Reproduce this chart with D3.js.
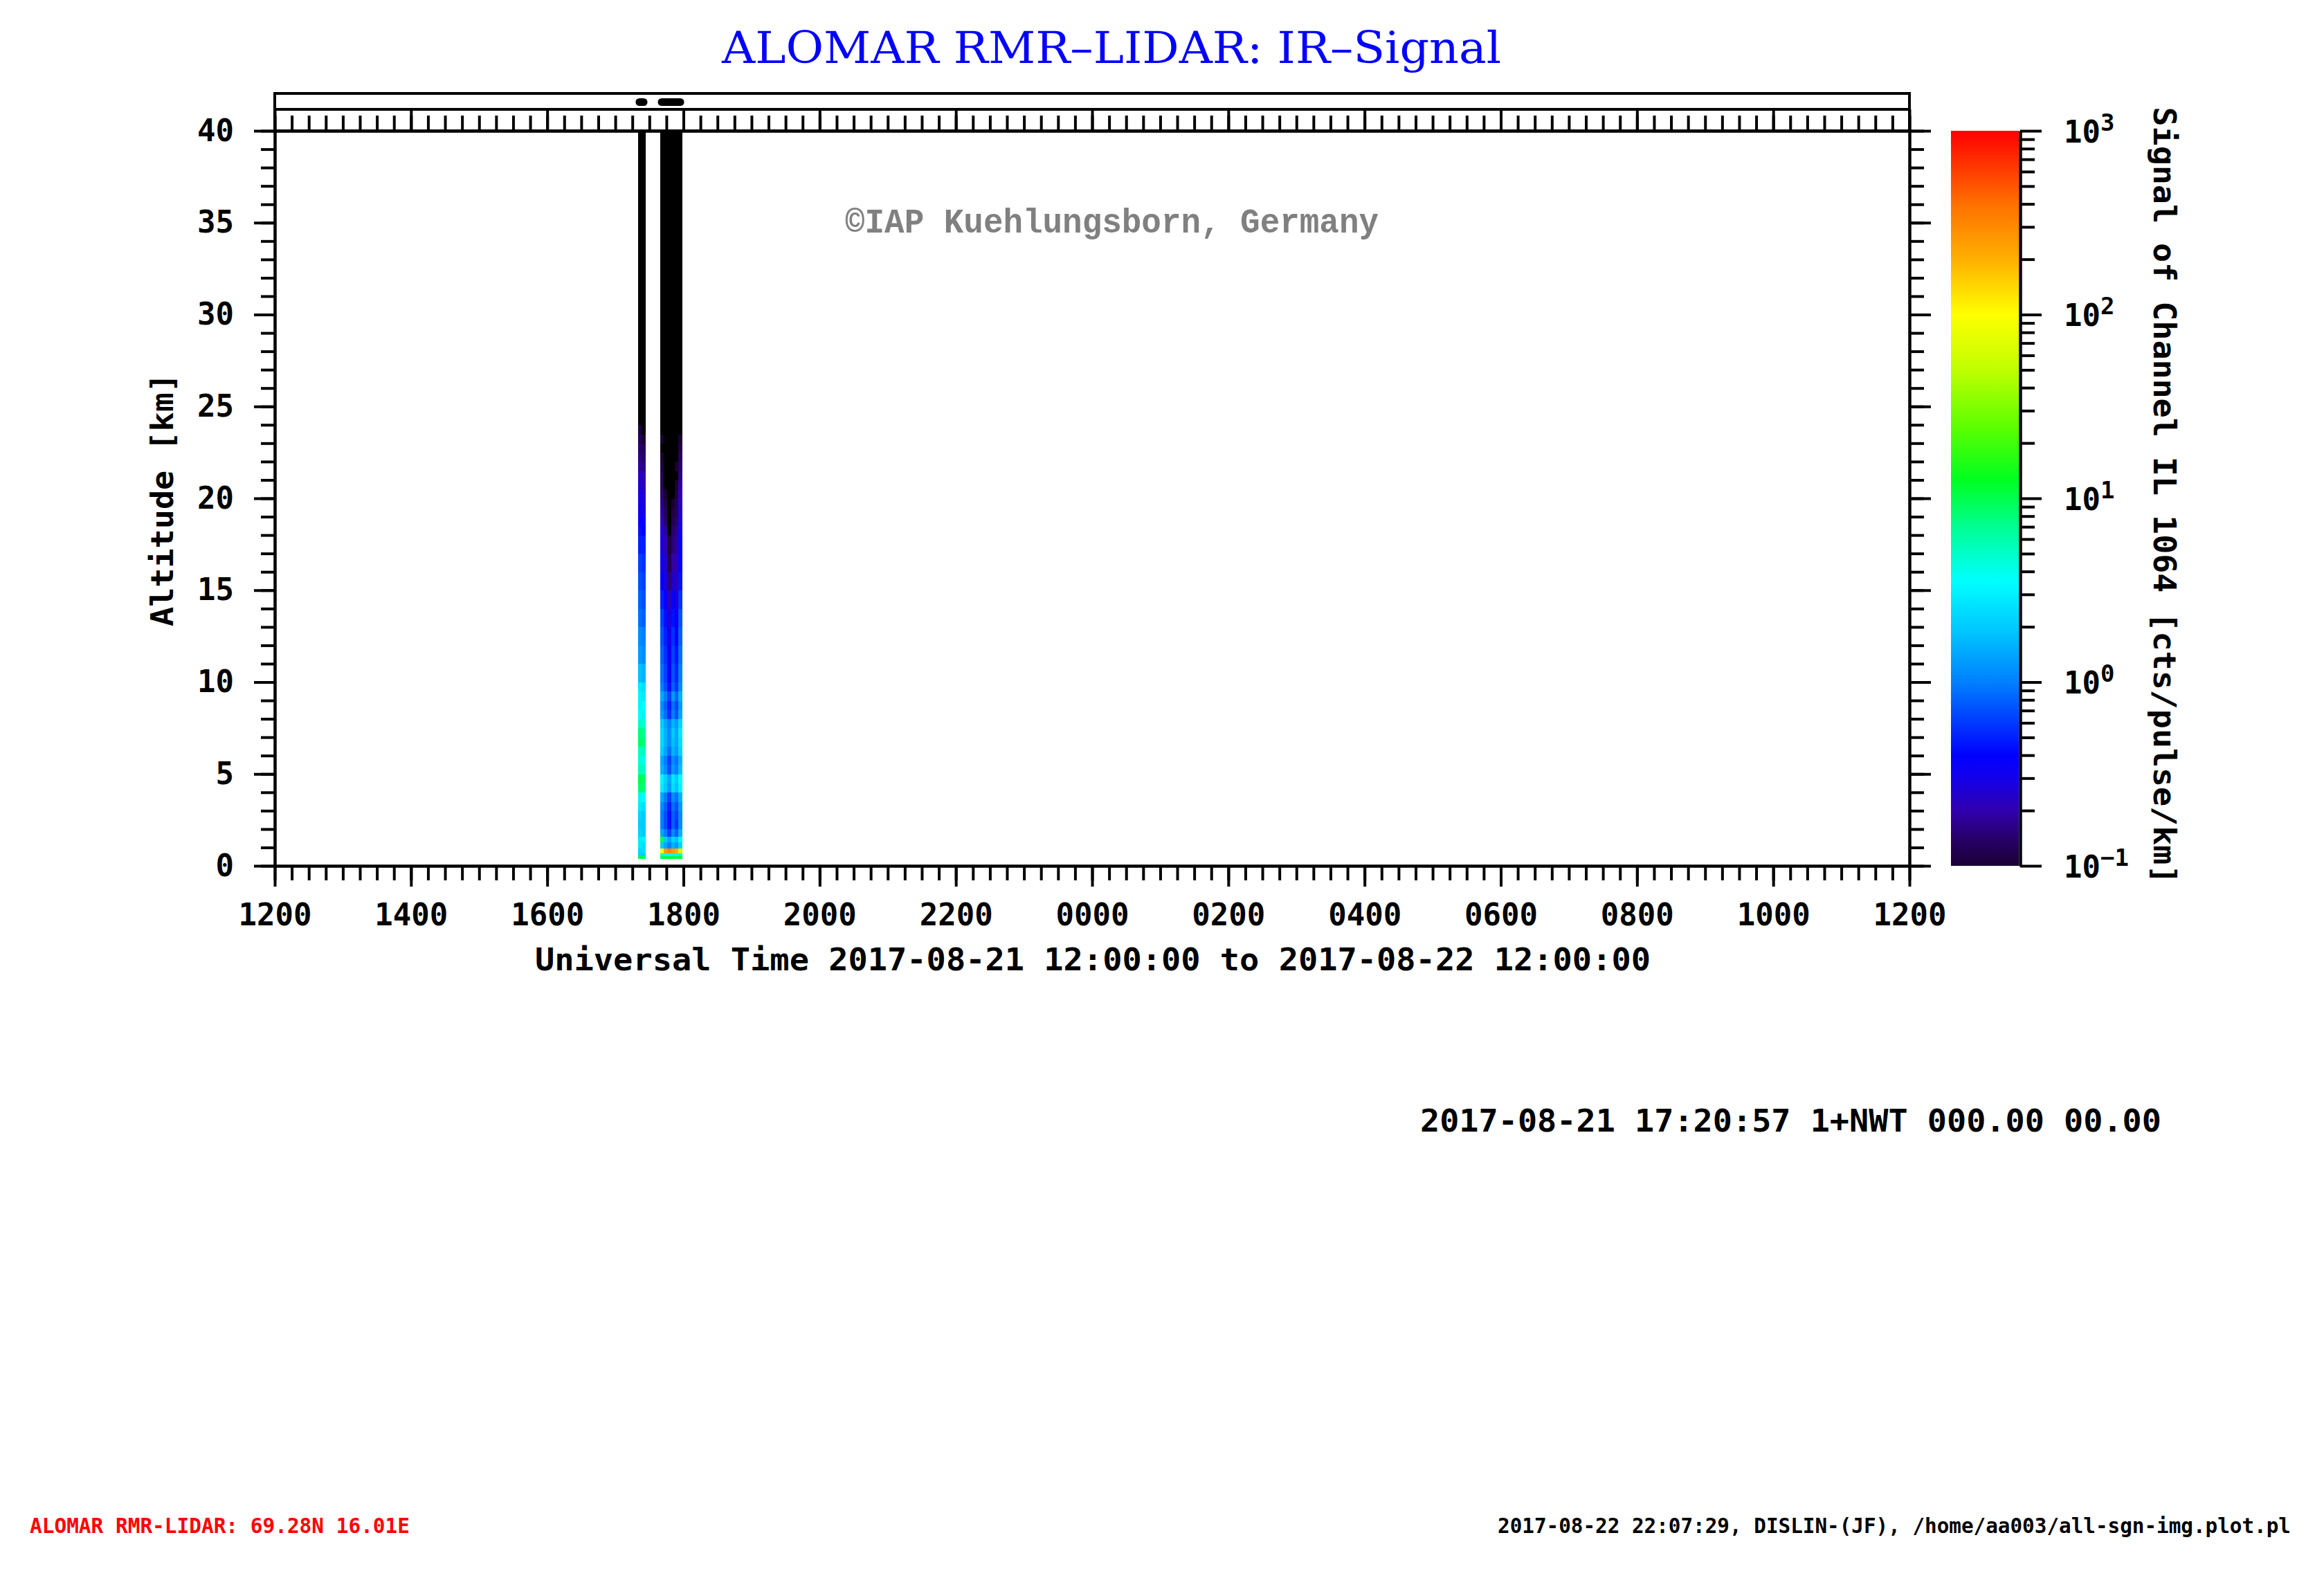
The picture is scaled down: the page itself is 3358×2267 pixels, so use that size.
<!DOCTYPE html>
<html>
<head>
<meta charset="utf-8">
<script src="https://cdn.jsdelivr.net/npm/d3@7"></script>
<style>
  body { margin: 0; background: #fff; }
</style>
</head>
<body>
<div id="chart"></div>
<script>
let width = 3358;
let height = 2267;
let mono = "DejaVu Sans Mono";

// plot frame in pixels
let plot = {left: 397, right: 2759, top: 189, bottom: 1251};

// altitude bin edges [km]
const altEdges = [0.4, 0.55, 0.7, 0.95, 1.3, 1.6, 2.0, 2.5, 3.0, 3.5, 4.0, 4.5, 5.0, 5.5, 6.0, 6.5,
  7.0, 7.5, 8.0, 8.5, 9.0, 9.5, 10, 11, 12, 13, 14, 15, 16, 17, 18, 18.5, 19, 19.5, 20,
  20.5, 21, 21.5, 22, 22.5, 23, 23.5, 24, 24.5, 25, 26, 40];

// integration intervals of each profile (UT, 2017-08-21)
const profStart = ["17:20:00", "17:23:06", "17:39:36", "17:42:45", "17:45:54", "17:49:03", "17:52:12", "17:55:21"];
const profEnd   = ["17:23:06", "17:26:12", "17:42:45", "17:45:54", "17:49:03", "17:52:12", "17:55:21", "17:58:30"];

// log10 signal [cts/pulse/km] per altitude bin, bottom to top (below -1 = no signal)
const p1720 = [1.05, 0.35, 0.35, 0.45, 0.45, 0.35, 0.3, 0.35, 0.45, 0.5, 0.95, 1.0, 0.75, 0.65, 0.7, 0.95,
  0.9, 0.7, 0.55, 0.5, 0.5, 0.45, 0.25, 0.1, 0.05, -0.05, -0.1, -0.15, -0.2, -0.3, -0.35, -0.45,
  -0.5, -0.5, -0.55, -0.6, -0.65, -0.75, -0.8, -0.85, -0.9, -0.95, -1.1, -1.2, -1.3, -1.5];
const p1723 = [1.0, 0.3, 0.4, 0.4, 0.5, 0.3, 0.3, 0.3, 0.4, 0.55, 0.9, 0.95, 0.7, 0.6, 0.75, 0.9,
  0.85, 0.65, 0.5, 0.55, 0.45, 0.4, 0.2, 0.05, 0.0, -0.1, -0.15, -0.2, -0.25, -0.3, -0.4, -0.45,
  -0.55, -0.6, -0.6, -0.7, -0.7, -0.8, -0.85, -0.9, -1.0, -1.1, -1.2, -1.1, -1.3, -1.5];
const p1739 = [1.0, 0.7, 2.0, 0.3, 1.0, 0.15, 0.0, 0.0, 0.05, 0.15, 0.45, 0.5, 0.2, 0.15, 0.3, 0.35,
  0.35, 0.3, 0.1, 0.05, 0.15, 0.0, -0.05, -0.1, -0.15, -0.2, -0.3, -0.4, -0.5, -0.55, -0.6, -0.7,
  -0.75, -0.8, -0.85, -0.9, -0.9, -0.95, -1.0, -1.1, -1.0, -1.2, -1.3, -1.3, -1.4, -1.5];
const p1742 = [1.05, 0.6, 2.4, 0.15, 0.3, 0.0, -0.15, -0.15, -0.1, 0.0, 0.3, 0.35, 0.05, 0.0, 0.15, 0.2,
  0.2, 0.15, -0.05, -0.1, 0.0, -0.15, -0.2, -0.25, -0.3, -0.35, -0.45, -0.55, -0.6, -0.7, -0.75, -0.85,
  -0.9, -0.95, -1.0, -1.05, -1.1, -1.2, -1.2, -1.3, -1.3, -1.4, -1.4, -1.5, -1.5, -1.5];
const p1745 = [1.05, 0.55, 2.5, 0.0, 0.15, -0.2, -0.35, -0.35, -0.3, -0.2, 0.1, 0.15, -0.15, -0.2, -0.05, 0.05,
  0.05, 0.0, -0.25, -0.3, -0.2, -0.35, -0.4, -0.45, -0.5, -0.55, -0.65, -0.8, -0.9, -0.95, -1.05, -1.1,
  -1.2, -1.2, -1.3, -1.3, -1.4, -1.4, -1.5, -1.5, -1.5, -1.5, -1.5, -1.5, -1.5, -1.5];
const p1749 = [1.05, 0.65, 2.4, 0.2, 0.35, 0.05, -0.1, -0.1, -0.05, 0.05, 0.4, 0.45, 0.1, 0.05, 0.2, 0.25,
  0.3, 0.2, 0.0, -0.05, 0.1, -0.1, -0.15, -0.2, -0.25, -0.35, -0.45, -0.6, -0.7, -0.8, -0.85, -0.9,
  -0.95, -1.0, -1.05, -1.1, -1.2, -1.3, -1.3, -1.4, -1.4, -1.5, -1.5, -1.5, -1.5, -1.5];
const p1752 = [1.0, 0.6, 2.3, 0.1, 0.25, -0.1, -0.25, -0.2, -0.15, -0.05, 0.25, 0.3, 0.0, -0.05, 0.1, 0.15,
  0.15, 0.1, -0.15, -0.2, -0.1, -0.25, -0.3, -0.35, -0.4, -0.45, -0.55, -0.65, -0.7, -0.75, -0.8, -0.85,
  -0.9, -0.9, -0.95, -1.0, -1.05, -1.0, -1.1, -1.2, -1.3, -1.3, -1.4, -1.4, -1.5, -1.5];
const p1755 = [1.05, 0.75, 1.8, 0.35, 0.5, 0.2, 0.05, 0.05, 0.1, 0.2, 0.5, 0.55, 0.25, 0.2, 0.35, 0.4,
  0.45, 0.35, 0.15, 0.1, 0.2, 0.05, 0.0, -0.05, -0.1, -0.15, -0.25, -0.35, -0.4, -0.45, -0.5, -0.55,
  -0.6, -0.65, -0.7, -0.75, -0.8, -0.85, -0.9, -0.95, -1.0, -1.05, -1.1, -1.2, -1.3, -1.5];
const profiles = [p1720, p1723, p1739, p1742, p1745, p1749, p1752, p1755];

// colour table: log10 signal -> colour
const cLog = [-1.0, -0.85, -0.7, -0.5, -0.4, -0.2, 0.0, 0.25, 0.55, 0.85, 1.1, 1.4, 1.7, 2.0, 2.3, 2.6, 3.0];
const cCol = ["#1a0033", "#28006a", "#3000b0", "#1000f0", "#0000ff", "#0040ff", "#0080ff", "#00c0ff",
  "#00ffff", "#00ff90", "#00ff20", "#60ff00", "#c0ff00", "#ffff00", "#ffb000", "#ff7000", "#ff0000"];

// colour bar decades and their exponent labels
const cbDecades = [0.1, 1, 10, 100, 1000];
const cbExp = ["\u22121", "0", "1", "2", "3"];

let parseUT = d3.utcParse("%Y-%m-%d %H:%M:%S");
let t0 = parseUT("2017-08-21 12:00:00");
let t1 = parseUT("2017-08-22 12:00:00");

let x = d3.scaleUtc().domain([t0, t1]).range([plot.left, plot.right]);
let y = d3.scaleLinear().domain([0, 40]).range([plot.bottom, plot.top]);
let cbar = d3.scaleLog().domain([0.1, 1000]).range([plot.bottom, plot.top]);
let color = d3.scaleLinear().domain(cLog).range(cCol).interpolate(d3.interpolateRgb).clamp(true);

function fillFor(v) {
  return v < -1 ? "#000000" : color(v);
}

let svg = d3.select("#chart").append("svg")
  .attr("width", width)
  .attr("height", height)
  .style("background", "#fff");

// profile cells
let cells = [];
profiles.forEach(function(p, k) {
  let ts = parseUT("2017-08-21 " + profStart[k]);
  let te = parseUT("2017-08-21 " + profEnd[k]);
  p.forEach(function(v, i) {
    cells.push({ts: ts, te: te, a0: altEdges[i], a1: altEdges[i + 1], v: v});
  });
});

svg.append("defs").append("clipPath").attr("id", "plotclip")
  .append("rect")
  .attr("x", plot.left).attr("y", plot.top)
  .attr("width", plot.right - plot.left).attr("height", plot.bottom - plot.top);

svg.append("g")
  .attr("clip-path", "url(#plotclip)")
  .selectAll("rect")
  .data(cells)
  .enter().append("rect")
    .attr("x", d => x(d.ts))
    .attr("width", d => x(d.te) - x(d.ts) + 0.5)
    .attr("y", d => y(d.a1))
    .attr("height", d => y(d.a0) - y(d.a1) + 0.5)
    .attr("fill", d => fillFor(d.v))
    .attr("shape-rendering", "crispEdges");

// measurement indicator strip above the plot
let stripTop = 135, stripMid = 158;
svg.append("rect")
  .attr("x", plot.left).attr("y", stripTop)
  .attr("width", plot.right - plot.left).attr("height", plot.top - stripTop)
  .attr("fill", "none").attr("stroke", "#000").attr("stroke-width", 4);
svg.append("line")
  .attr("x1", plot.left).attr("x2", plot.right)
  .attr("y1", stripMid).attr("y2", stripMid)
  .attr("stroke", "#000").attr("stroke-width", 4);

// merge contiguous profiles into measurement periods
let periods = [];
profStart.forEach(function(s, k) {
  let last = periods[periods.length - 1];
  if (last && last.end === s) {
    last.end = profEnd[k];
  } else {
    periods.push({start: s, end: profEnd[k]});
  }
});
svg.append("g").selectAll("line")
  .data(periods)
  .enter().append("line")
    .attr("x1", d => x(parseUT("2017-08-21 " + d.start)) + 2)
    .attr("x2", d => x(parseUT("2017-08-21 " + d.end)) - 2)
    .attr("y1", (stripTop + stripMid) / 2 + 1)
    .attr("y2", (stripTop + stripMid) / 2 + 1)
    .attr("stroke", "#000").attr("stroke-width", 11).attr("stroke-linecap", "round");

function styleAxis(g) {
  g.attr("font-family", mono).attr("font-size", 44).attr("font-weight", "bold");
  g.selectAll("line").attr("stroke", "#000").attr("stroke-width", 4);
  g.selectAll("path.domain").attr("stroke", "#000").attr("stroke-width", 4);
  g.selectAll("text").attr("fill", "#000");
}

// bottom axis
svg.append("g").attr("transform", `translate(0,${plot.bottom})`)
  .call(d3.axisBottom(x).ticks(d3.utcMinute.every(15)).tickSize(21).tickSizeOuter(0).tickFormat(""))
  .call(styleAxis);
svg.append("g").attr("transform", `translate(0,${plot.bottom})`)
  .call(d3.axisBottom(x).ticks(d3.utcHour.every(2)).tickSize(30).tickSizeOuter(0)
    .tickPadding(25).tickFormat(d3.utcFormat("%H%M")))
  .call(styleAxis);

// top axis (ticks inside the strip)
svg.append("g").attr("transform", `translate(0,${plot.top})`)
  .call(d3.axisTop(x).ticks(d3.utcMinute.every(15)).tickSize(22).tickSizeOuter(0).tickFormat(""))
  .call(styleAxis);
svg.append("g").attr("transform", `translate(0,${plot.top})`)
  .call(d3.axisTop(x).ticks(d3.utcHour.every(2)).tickSize(plot.top - stripMid).tickSizeOuter(0).tickFormat(""))
  .call(styleAxis);

// left axis
svg.append("g").attr("transform", `translate(${plot.left},0)`)
  .call(d3.axisLeft(y).tickValues(d3.range(0, 41, 1)).tickSize(20).tickSizeOuter(0).tickFormat(""))
  .call(styleAxis);
svg.append("g").attr("transform", `translate(${plot.left},0)`)
  .call(d3.axisLeft(y).tickValues(d3.range(0, 41, 5)).tickSize(30).tickSizeOuter(0).tickPadding(29))
  .call(styleAxis);

// right axis
svg.append("g").attr("transform", `translate(${plot.right},0)`)
  .call(d3.axisRight(y).tickValues(d3.range(0, 41, 1)).tickSize(21).tickSizeOuter(0).tickFormat(""))
  .call(styleAxis);
svg.append("g").attr("transform", `translate(${plot.right},0)`)
  .call(d3.axisRight(y).tickValues(d3.range(0, 41, 5)).tickSize(31).tickSizeOuter(0).tickFormat(""))
  .call(styleAxis);

// colour bar
let cbLeft = 2819, cbRight = 2919;
let grad = svg.append("defs").append("linearGradient")
  .attr("id", "cbgrad")
  .attr("x1", 0).attr("y1", 1).attr("x2", 0).attr("y2", 0);
grad.selectAll("stop")
  .data(cLog)
  .enter().append("stop")
    .attr("offset", d => (d - cLog[0]) / (cLog[cLog.length - 1] - cLog[0]))
    .attr("stop-color", (d, i) => cCol[i]);
svg.append("rect")
  .attr("x", cbLeft).attr("y", cbar(1000))
  .attr("width", cbRight - 2 - cbLeft).attr("height", cbar(0.1) - cbar(1000))
  .attr("fill", "url(#cbgrad)");

svg.append("g").attr("transform", `translate(${cbRight},0)`)
  .call(d3.axisRight(cbar).tickValues(cbar.ticks().filter(v => cbDecades.indexOf(v) < 0))
    .tickSize(21).tickSizeOuter(0).tickFormat(""))
  .call(styleAxis);
let cbAxis = svg.append("g").attr("transform", `translate(${cbRight},0)`)
  .call(d3.axisRight(cbar).tickValues(cbDecades).tickSize(31).tickSizeOuter(0).tickFormat(""))
  .call(styleAxis);
cbAxis.selectAll(".tick").each(function(d, i) {
  let t = d3.select(this).append("text")
    .attr("x", 63).attr("y", 16)
    .attr("text-anchor", "start")
    .attr("fill", "#000");
  t.append("tspan").text("10");
  t.append("tspan").attr("dy", -17).attr("font-size", 34).text(cbExp[i]);
});

// titles and annotations
function label(txt, opts) {
  let t = svg.append("text")
    .attr("font-family", opts.family || mono)
    .attr("font-weight", opts.weight || "bold")
    .attr("font-size", opts.size || 44)
    .attr("fill", opts.fill || "#000")
    .attr("text-anchor", opts.anchor || "start")
    .attr("transform", opts.transform)
    .text(txt);
  if (opts.len) t.attr("textLength", opts.len).attr("lengthAdjust", "spacingAndGlyphs");
  return t;
}

label("ALOMAR RMR\u2013LIDAR: IR\u2013Signal", {family: "DejaVu Serif", weight: "normal", size: 64,
  fill: "#0000ff", transform: "translate(1043,91)", len: 1126});
label("\u00a9IAP Kuehlungsborn, Germany", {family: "Liberation Mono", size: 50, fill: "#808080",
  transform: "translate(1221,336)", len: 771});
label("Altitude [km]", {anchor: "middle", transform: "translate(250,722) rotate(-90)", len: 366});
label("Universal Time 2017-08-21 12:00:00 to 2017-08-22 12:00:00", {anchor: "middle",
  transform: "translate(1579,1402)", len: 1612});
label("Signal of Channel IL 1064 [cts/pulse/km]", {anchor: "middle",
  transform: "translate(3112,716) rotate(90)", len: 1123});
label("2017-08-21 17:20:57 1+NWT 000.00 00.00", {transform: "translate(2052,1635)", len: 1071});
label("ALOMAR RMR-LIDAR: 69.28N 16.01E", {size: 30, fill: "#ff0000",
  transform: "translate(43,2215)", len: 549});
label("2017-08-22 22:07:29, DISLIN-(JF), /home/aa003/all-sgn-img.plot.pl", {size: 30,
  transform: "translate(2164,2215)", len: 1146});
</script>
</body>
</html>
